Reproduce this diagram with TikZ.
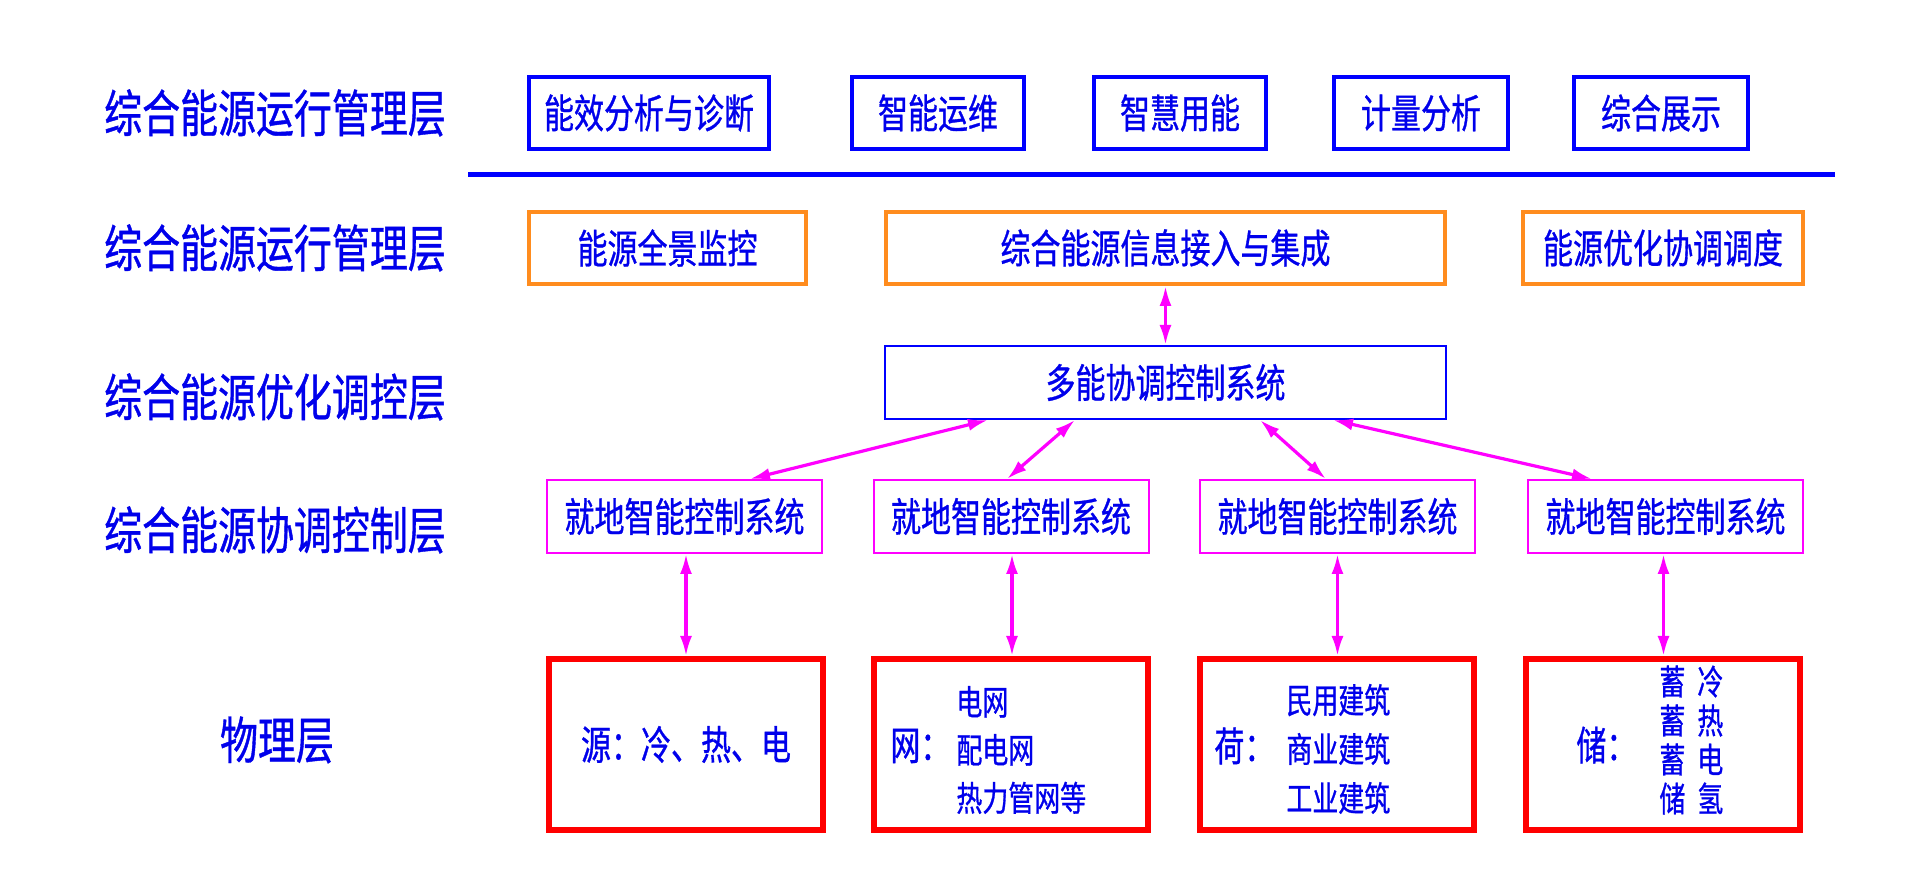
\documentclass[tikz,border=0pt]{standalone}
\usepackage{fontspec}
\setmainfont[FakeStretch=0.75,FakeBold=0.8]{Noto Sans CJK SC}
\usepackage{tikz}
\usetikzlibrary{arrows.meta}

\definecolor{txtblue}{RGB}{0,0,235}
\definecolor{boxblue}{RGB}{0,0,255}
\definecolor{boxorange}{RGB}{255,140,30}
\definecolor{linkpink}{RGB}{255,0,255}
\definecolor{boxred}{RGB}{255,0,0}

\tikzset{
  lyr/.style={text=txtblue,inner sep=0pt,font=\fontsize{25.3}{25.3}\selectfont},
  boxtxt/.style={text=txtblue,inner sep=0pt,font=\fontsize{20}{20}\selectfont},
  listtxt/.style={text=txtblue,inner sep=0pt,align=left},
  appbox/.style={boxtxt,draw=boxblue,line width=2pt,minimum height=36pt},
  platbox/.style={boxtxt,draw=boxorange,line width=2pt,minimum height=36pt},
  mcsbox/.style={boxtxt,draw=boxblue,line width=1pt,minimum height=36.5pt,minimum width=280.5pt},
  lcsbox/.style={boxtxt,draw=linkpink,line width=1pt,minimum height=36.5pt,minimum width=137.5pt},
  physbox/.style={boxtxt,draw=boxred,line width=3pt,minimum height=85.5pt,minimum width=137pt},
  link/.style={{Latex[length=10pt,width=6pt]}-{Latex[length=10pt,width=6pt]},draw=linkpink,line width=1.6pt},
  sepline/.style={draw=boxblue,line width=2.5pt}
}

\begin{document}
\begin{tikzpicture}[x=0.5pt,y=-0.5pt]
  \useasboundingbox (0,0) rectangle (1918,886);

  % layer labels
  \node[lyr] (L1) at (275,113) {综合能源运行管理层};
  \node[lyr] (L2) at (275,248) {综合能源运行管理层};
  \node[lyr] (L3) at (275,397) {综合能源优化调控层};
  \node[lyr] (L4) at (275,530) {综合能源协调控制层};
  \node[lyr] (L5) at (277,740) {物理层};

  % application boxes
  \node[appbox,minimum width=120pt] (M1) at (649,113) {能效分析与诊断};
  \node[appbox,minimum width=86pt] (M2) at (938,113) {智能运维};
  \node[appbox,minimum width=86pt] (M3) at (1180,113) {智慧用能};
  \node[appbox,minimum width=87pt] (M4) at (1421,113) {计量分析};
  \node[appbox,minimum width=87pt] (M5) at (1661,113) {综合展示};

  \draw[sepline] (468,175) -- (1835,175);

  % platform boxes
  \node[platbox,minimum width=138.5pt] (O1) at (667.5,248) {能源全景监控};
  \node[platbox,minimum width=279.5pt] (O2) at (1165.5,248) {综合能源信息接入与集成};
  \node[platbox,minimum width=140pt] (O3) at (1663,248) {能源优化协调调度};

  \node[mcsbox] (MCS) at (1165.5,382.5) {多能协调控制系统};

  % local control systems
  \node[lcsbox] (LCS1) at (684.5,516.5) {就地智能控制系统};
  \node[lcsbox] (LCS2) at (1011,516.5) {就地智能控制系统};
  \node[lcsbox] (LCS3) at (1337.5,516.5) {就地智能控制系统};
  \node[lcsbox] (LCS4) at (1665.5,516.5) {就地智能控制系统};

  % physical layer
  \node[physbox] (P1) at (686,744.5) {源：冷、热、电};
  \node[physbox] (P2) at (1011,744.5) {};
  \node[physbox] (P3) at (1337,744.5) {};
  \node[physbox] (P4) at (1663,744.5) {};

  \node[boxtxt,anchor=west] (P2a) at (890,746) {网：};
  \node[listtxt,anchor=west,font=\fontsize{17.3}{24}\selectfont] (P2b) at (956,750) {电网\\配电网\\热力管网等};
  \node[boxtxt,anchor=west] (P3a) at (1214,746) {荷：};
  \node[listtxt,anchor=west,font=\fontsize{17.3}{24.5}\selectfont] (P3b) at (1286,749) {民用建筑\\商业建筑\\工业建筑};
  \node[boxtxt,anchor=west] (P4a) at (1576,745) {储：};
  \node[listtxt,anchor=west,font=\fontsize{17.3}{19.5}\selectfont] (P4b) at (1659,740) {蓄\hspace{6pt}冷\\蓄\hspace{6pt}热\\蓄\hspace{6pt}电\\储\hspace{6pt}氢};

  % links
  \draw[link] (O2.south) -- (MCS.north);
  \draw[link] ([xshift=-88.75pt]MCS.south) -- ([xshift=32.75pt]LCS1.north);
  \draw[link] ([xshift=-45.25pt]MCS.south) -- ([xshift=-2pt]LCS2.north);
  \draw[link] ([xshift=47.25pt]MCS.south) -- ([xshift=-5.75pt]LCS3.north);
  \draw[link] ([xshift=83.75pt]MCS.south) -- ([xshift=-36.75pt]LCS4.north);

  \draw[link] ([xshift=0.75pt]LCS1.south) -- ([xshift=0.75pt]LCS1.south |- P1.north);
  \draw[link] ([xshift=0.5pt]LCS2.south) -- ([xshift=0.5pt]LCS2.south |- P2.north);
  \draw[link] (LCS3.south) -- (LCS3.south |- P3.north);
  \draw[link] ([xshift=-1pt]LCS4.south) -- ([xshift=-1pt]LCS4.south |- P4.north);
\end{tikzpicture}
\end{document}
